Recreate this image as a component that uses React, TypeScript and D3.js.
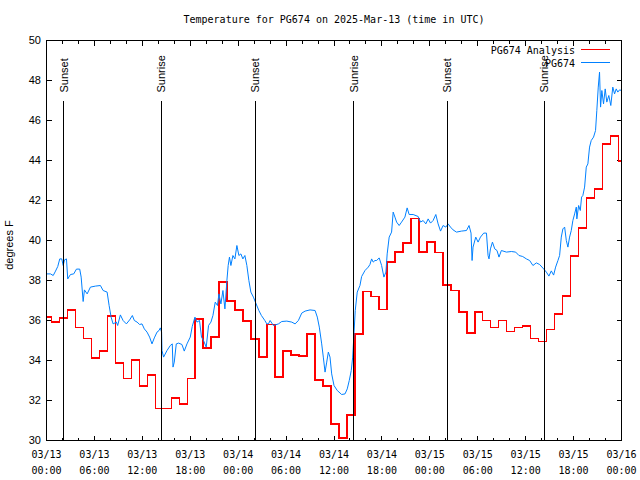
import React from 'react';
import * as d3 from 'd3';

const chartTitle = 'Temperature for PG674 on 2025-Mar-13 (time in UTC)';
const yAxisLabel = 'degrees F';
const yTickValues = [30, 32, 34, 36, 38, 40, 42, 44, 46, 48, 50];
const xTickHours = [0, 6, 12, 18, 24, 30, 36, 42, 48, 54, 60, 66, 72];
const xTickDates = ['03/13', '03/13', '03/13', '03/13', '03/14', '03/14', '03/14', '03/14', '03/15', '03/15', '03/15', '03/15', '03/16'];
const xTickTimes = ['00:00', '06:00', '12:00', '18:00', '00:00', '06:00', '12:00', '18:00', '00:00', '06:00', '12:00', '18:00', '00:00'];
const minorTickHours = d3.range(0, 73, 2);

const eventHours = [2.17, 14.41, 26.16, 38.46, 50.16, 62.34];
const eventNames = ['Sunset', 'Sunrise', 'Sunset', 'Sunrise', 'Sunset', 'Sunrise'];
const eventTopValue = 47;

const analysisName = 'PG674 Analysis';
const stationName = 'PG674';

// hourly analysis values (hour 0..72), each held from (hour - lead) onwards
const analysisLead = 0.375;
const analysisValues = [
  36.17, 35.92, 36.13, 36.53, 35.65, 35.1, 34.13, 34.48, 36.23, 33.88,
  33.1, 34.03, 32.73, 33.28, 31.6, 31.6, 32.13, 31.83, 33.1, 36.08,
  34.63, 35.18, 37.93, 36.97, 36.52, 35.98, 35.08, 34.18, 35.8, 33.18,
  34.48, 34.28, 34.23, 35.33, 33.02, 32.72, 30.83, 30.13, 31.28, 35.33,
  37.45, 37.2, 36.55, 38.92, 39.42, 39.88, 41.1, 39.42, 39.92, 39.4,
  37.77, 37.5, 36.42, 35.38, 36.43, 36.0, 35.65, 36.0, 35.45, 35.66,
  35.72, 35.1, 34.95, 35.55, 36.33, 37.23, 39.22, 40.63, 42.13, 42.58,
  44.83, 45.22, 43.97,
];

const obsHours = [
  0, 0.5, 0.84, 1.13, 1.41, 1.66, 1.91, 2.09, 2.25, 2.5, 2.66, 3.0, 3.41, 3.75, 4.16, 4.34, 4.59, 4.75, 5.09, 5.5,
  6.13, 6.75, 7.09, 7.59, 7.84, 8.09, 8.34, 8.75, 8.91, 9.25, 9.59, 10.0, 10.41, 10.75, 11.0, 11.34, 11.66, 11.96, 12.25, 12.59,
  12.91, 13.21, 13.5, 13.84, 14.09, 14.25, 14.41, 14.46, 14.66, 15.09, 15.5, 15.75, 15.84, 16.0, 16.25, 16.54, 16.96, 17.25, 17.59, 18.0,
  18.25, 18.59, 18.84, 19.16, 19.41, 19.66, 20.0, 20.29, 20.59, 20.84, 21.13, 21.41, 21.59, 21.84, 22.09, 22.34, 22.59, 22.75, 22.91, 23.09,
  23.34, 23.59, 23.84, 24.09, 24.34, 24.59, 24.84, 25.09, 25.34, 25.59, 25.91, 26.25, 26.59, 26.91, 27.34, 27.59, 27.79, 28.0, 28.41, 29.04,
  29.46, 30.09, 30.71, 31.13, 31.54, 31.96, 32.38, 33.0, 33.63, 33.91, 34.16, 34.46, 34.66, 34.88, 35.09, 35.29, 35.5, 35.71, 36.0, 36.41,
  36.96, 37.38, 37.66, 37.91, 38.16, 38.34, 38.5, 38.66, 38.91, 39.25, 39.46, 39.88, 40.29, 40.5, 40.71, 40.91, 41.13, 41.34, 41.66, 41.96,
  42.25, 42.5, 42.66, 42.91, 43.21, 43.41, 43.63, 43.84, 44.16, 44.46, 44.88, 45.16, 45.41, 45.91, 46.54, 46.84, 47.16, 47.5, 47.79, 48.09,
  48.41, 48.75, 49.04, 49.34, 49.66, 50.0, 50.29, 50.59, 50.91, 51.34, 51.96, 52.59, 52.91, 53.16, 53.29, 53.41, 53.75, 54.04, 54.34, 54.75,
  55.09, 55.29, 55.41, 55.59, 55.84, 56.13, 56.41, 56.66, 56.96, 57.59, 58.21, 58.75, 59.16, 59.63, 60.09, 60.5, 60.91, 61.34, 61.75, 62.25,
  62.59, 62.91, 63.21, 63.5, 63.75, 64.04, 64.25, 64.46, 64.66, 64.88, 65.09, 65.29, 65.5, 65.71, 65.91, 66.13, 66.34, 66.41, 66.63, 66.84,
  67.0, 67.16, 67.38, 67.59, 67.79, 68.0, 68.21, 68.5, 68.75, 68.91, 69.09, 69.25, 69.38, 69.54, 69.75, 69.96, 70.16, 70.41, 70.66, 70.91,
  71.13, 71.34, 71.54, 71.75, 72.0,
];
const obsValues = [
  38.33, 38.33, 38.25, 38.47, 38.7, 39.08, 39.08, 38.75, 39.03, 39.08, 38.08, 38.3, 38.33, 38.57, 38.57, 38.17, 36.95, 37.53, 37.33, 37.67,
  37.72, 37.75, 37.5, 37.42, 36.75, 36.17, 35.83, 35.92, 35.75, 36.28, 36.0, 35.83, 36.03, 36.25, 36.0, 35.92, 35.8, 35.83, 35.58, 35.42,
  35.17, 34.83, 35.13, 35.42, 35.5, 35.63, 35.42, 34.5, 34.17, 34.5, 34.75, 34.83, 33.67, 33.92, 34.83, 34.87, 34.8, 34.47, 34.83, 35.17,
  35.7, 36.17, 35.92, 36.0, 35.17, 35.0, 34.67, 35.75, 35.92, 36.25, 36.92, 36.75, 37.33, 36.83, 37.5, 36.58, 38.0, 38.75, 39.17, 38.75,
  39.25, 39.08, 39.75, 39.25, 39.33, 39.08, 39.25, 38.75, 38.0, 37.42, 37.17, 36.83, 36.5, 36.25, 36.0, 35.83, 35.83, 36.0, 35.75, 35.83,
  35.95, 35.97, 35.92, 35.83, 36.0, 36.37, 36.47, 36.53, 36.5, 36.17, 35.67, 34.83, 34.17, 33.42, 33.92, 34.42, 34.17, 33.33, 32.75, 32.5,
  32.3, 32.33, 32.58, 33.0, 33.5, 34.17, 35.33, 36.5, 37.42, 37.75, 38.2, 38.5, 38.67, 38.8, 39.08, 38.92, 39.0, 39.0, 39.13, 38.75,
  38.17, 38.42, 39.33, 40.17, 40.42, 41.42, 41.17, 40.92, 40.75, 40.92, 41.17, 41.63, 41.3, 41.3, 41.2, 40.92, 41.0, 40.83, 41.08, 40.87,
  41.0, 41.3, 40.83, 40.47, 40.75, 40.67, 40.83, 40.67, 40.53, 40.42, 40.47, 40.5, 40.75, 40.37, 39.0, 39.67, 40.17, 39.92, 40.17, 40.37,
  40.37, 39.25, 39.08, 39.58, 39.92, 39.58, 39.5, 39.17, 39.5, 39.42, 39.45, 39.42, 39.25, 39.2, 39.08, 39.0, 38.75, 38.88, 38.8, 38.58,
  38.42, 38.22, 38.48, 38.27, 38.67, 39.0, 39.25, 40.17, 40.58, 40.67, 40.0, 39.67, 40.17, 40.5, 41.0, 41.33, 41.67, 41.08, 41.75, 41.5,
  42.17, 42.25, 42.67, 43.67, 43.83, 44.67, 45.0, 45.17, 45.5, 46.5, 47.67, 48.42, 46.67, 47.5, 46.83, 47.58, 46.92, 47.25, 46.75, 47.67,
  47.33, 47.58, 47.42, 47.53, 47.5,
];

const MONO = "'DejaVu Sans Mono', 'Liberation Mono', monospace";
const SANS = "'Liberation Sans', Arial, sans-serif";

export default function App() {
  const W = 640;
  const H = 480;
  const left = 46.5, right = 621.5, top = 40.5, bottom = 440.5;
  const x = d3.scaleLinear().domain([0, 72]).range([left, right]);
  const y = d3.scaleLinear().domain([30, 50]).range([bottom, top]);

  const redPts: [number, number][] = analysisValues.map((v, i) => [Math.max(0, i - analysisLead), v]);
  redPts.push([72, analysisValues[analysisValues.length - 1]]);
  const redPath = d3.line<[number, number]>()
    .x(d => x(d[0]))
    .y(d => y(d[1]))
    .curve(d3.curveStepAfter)(redPts) || '';

  const bluePts: [number, number][] = obsHours.map((h, i) => [h, obsValues[i]]);
  const bluePath = d3.line<[number, number]>()
    .x(d => x(d[0]))
    .y(d => y(d[1]))(bluePts) || '';

  const majorLen = 5;
  const minorLen = 3;
  const px = (v: number) => Math.round(v - 0.5) + 0.5;

  return (
    <svg width={W} height={H} style={{ position: 'absolute', left: 0, top: 0, background: '#fff' }}>
      <rect x={0} y={0} width={W} height={H} fill="#fff" />
      <defs>
        <clipPath id="plotClip">
          <rect x={left} y={top} width={right - left} height={bottom - top} />
        </clipPath>
      </defs>

      <text x={(left + right) / 2} y={23} textAnchor="middle" fontFamily={MONO} fontSize={10} fill="#000">
        {chartTitle}
      </text>

      {/* y ticks */}
      {yTickValues.map(v => (
        <g key={'y' + v}>
          <line x1={left} x2={left + majorLen} y1={px(y(v))} y2={px(y(v))} stroke="#000" shapeRendering="crispEdges" />
          <line x1={right} x2={right - majorLen} y1={px(y(v))} y2={px(y(v))} stroke="#000" shapeRendering="crispEdges" />
          <text x={41} y={y(v)} dy="0.35em" textAnchor="end" fontFamily={SANS} fontSize={11} fill="#000">{v}</text>
        </g>
      ))}

      {/* x minor ticks */}
      {minorTickHours.map(h => (
        <g key={'m' + h}>
          <line x1={px(x(h))} x2={px(x(h))} y1={bottom} y2={bottom - minorLen} stroke="#000" shapeRendering="crispEdges" />
          <line x1={px(x(h))} x2={px(x(h))} y1={top} y2={top + minorLen} stroke="#000" shapeRendering="crispEdges" />
        </g>
      ))}
      {xTickHours.map((h, i) => (
        <g key={'x' + h}>
          <line x1={px(x(h))} x2={px(x(h))} y1={bottom} y2={bottom - majorLen} stroke="#000" shapeRendering="crispEdges" />
          <line x1={px(x(h))} x2={px(x(h))} y1={top} y2={top + majorLen} stroke="#000" shapeRendering="crispEdges" />
          <text x={x(h)} y={458} textAnchor="middle" fontFamily={MONO} fontSize={10} fill="#000">{xTickDates[i]}</text>
          <text x={x(h)} y={474} textAnchor="middle" fontFamily={MONO} fontSize={10} fill="#000">{xTickTimes[i]}</text>
        </g>
      ))}

      <text transform={`translate(13, ${245}) rotate(-90)`} textAnchor="middle" fontFamily={SANS} fontSize={11} fill="#000">
        {yAxisLabel}
      </text>

      <g clipPath="url(#plotClip)">
        <path d={redPath} fill="none" stroke="#ff0000" strokeWidth={1.5} shapeRendering="crispEdges" />
        <path d={bluePath} fill="none" stroke="#0080ff" strokeWidth={1} />
      </g>

      {/* sunrise / sunset markers */}
      {eventHours.map((h, i) => (
        <g key={'e' + i}>
          <line x1={px(x(h))} x2={px(x(h))} y1={y(eventTopValue)} y2={bottom} stroke="#000" strokeWidth={1.3} shapeRendering="crispEdges" />
          <text transform={`translate(${x(h)}, ${y(eventTopValue) - 8}) rotate(-90)`} dy="0.35em" textAnchor="start"
            fontFamily={SANS} fontSize={11} fill="#000">{eventNames[i]}</text>
        </g>
      ))}

      {/* legend */}
      <text x={575} y={50} dy="0.35em" textAnchor="end" fontFamily={MONO} fontSize={10} fill="#000">{analysisName}</text>
      <line x1={581} x2={610} y1={49.5} y2={49.5} stroke="#ff0000" strokeWidth={1} shapeRendering="crispEdges" />
      <text x={575} y={63} dy="0.35em" textAnchor="end" fontFamily={MONO} fontSize={10} fill="#000">{stationName}</text>
      <line x1={581} x2={610} y1={62.5} y2={62.5} stroke="#0080ff" strokeWidth={1} shapeRendering="crispEdges" />

      <rect x={left} y={top} width={right - left} height={bottom - top} fill="none" stroke="#000" strokeWidth={1} shapeRendering="crispEdges" />
    </svg>
  );
}
